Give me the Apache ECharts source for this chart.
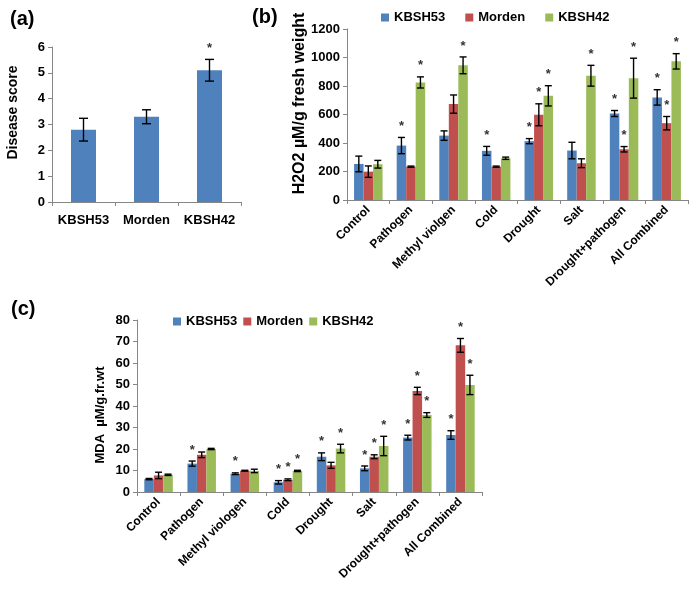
<!DOCTYPE html>
<html><head><meta charset="utf-8">
<script src="https://cdn.jsdelivr.net/npm/echarts@6/dist/echarts.min.js"></script>
<style>html,body{margin:0;padding:0;background:#fff}#c{width:692px;height:590px}</style>
</head><body><div id="c"></div>
<script>
const FONT = '"Liberation Sans", Arial, sans-serif';
const COLORS = ['#4F81BD', '#C0504D', '#9BBB59'];

// Panel (a) data
const cultivars = ['KBSH53', 'Morden', 'KBSH42'];
const diseaseScore = [2.8, 3.3, 5.1];
const diseaseErr = [0.44, 0.27, 0.42];
const diseaseStar = [0, 0, 1];

// Panel (b) data
const treatmentsB = ['Control', 'Pathogen', 'Methyl violgen', 'Cold', 'Drought', 'Salt', 'Drought+pathogen', 'All Combined'];
const h2o2KBSH53 = [253, 382, 452, 345, 413, 347, 607, 720];
const h2o2KBSH53Err = [55, 57, 33, 31, 18, 58, 21, 54];
const h2o2KBSH53Star = [0, 1, 0, 1, 1, 0, 1, 1];
const h2o2Morden = [199, 234, 673, 234, 598, 258, 356, 539];
const h2o2MordenErr = [40, 4, 64, 4, 77, 31, 19, 47];
const h2o2MordenStar = [0, 0, 0, 0, 1, 0, 1, 1];
const h2o2KBSH42 = [251, 825, 945, 293, 731, 872, 855, 973];
const h2o2KBSH42Err = [27, 39, 59, 8, 71, 73, 140, 54];
const h2o2KBSH42Star = [0, 1, 1, 0, 1, 1, 1, 1];

// Panel (c) data
const treatmentsC = ['Control', 'Pathogen', 'Methyl viologen', 'Cold', 'Drought', 'Salt', 'Drought+pathogen', 'All Combined'];
const mdaKBSH53 = [6.0, 13.2, 8.5, 4.5, 16.4, 11.0, 25.3, 26.5];
const mdaKBSH53Err = [0.3, 1.2, 0.4, 0.8, 1.8, 1.1, 1.1, 2.0];
const mdaKBSH53Star = [0, 1, 1, 1, 1, 1, 1, 1];
const mdaMorden = [7.7, 17.3, 9.9, 5.7, 12.4, 16.4, 47.0, 68.2];
const mdaMordenErr = [1.5, 1.3, 0.2, 0.4, 1.4, 0.9, 1.7, 3.2];
const mdaMordenStar = [0, 0, 0, 1, 0, 1, 1, 1];
const mdaKBSH42 = [8.0, 20.0, 9.8, 9.8, 20.2, 21.4, 35.8, 49.8];
const mdaKBSH42Err = [0.3, 0.3, 0.8, 0.3, 2.0, 4.5, 1.1, 4.5];
const mdaKBSH42Star = [0, 0, 0, 1, 1, 1, 1, 1];

const yTicksA = { min: 0, max: 6, interval: 1 };
const yTicksB = { min: 0, max: 1200, interval: 200 };
const yTicksC = { min: 0, max: 80, interval: 10 };

const AXIS_COLOR = '#868686';

function errSeries(gi, vals, errs, stars, k, n, bw, cap) {
  return {
    type: 'custom', xAxisIndex: gi, yAxisIndex: gi, silent: true, z: 5,
    name: 'err' + gi + '_' + k,
    data: vals.map((v, i) => [i, v - errs[i], v + errs[i], stars[i]]),
    encode: { x: 0, y: [1, 2] },
    renderItem: function (params, api) {
      const i = api.value(0);
      const lo = api.coord([i, api.value(1)]);
      const hi = api.coord([i, api.value(2)]);
      const x = lo[0] + (k - (n - 1) / 2) * bw;
      const st = { stroke: '#000', lineWidth: 1.4 };
      const children = [
        { type: 'line', shape: { x1: x, y1: lo[1], x2: x, y2: hi[1] }, style: st },
        { type: 'line', shape: { x1: x - cap / 2, y1: lo[1], x2: x + cap / 2, y2: lo[1] }, style: st },
        { type: 'line', shape: { x1: x - cap / 2, y1: hi[1], x2: x + cap / 2, y2: hi[1] }, style: st }
      ];
      if (api.value(3)) {
        children.push({
          type: 'text',
          style: {
            text: '*', x: x, y: hi[1] - 11,
            textAlign: 'center', textVerticalAlign: 'middle', align: 'center', verticalAlign: 'middle',
            font: 'bold 13px ' + FONT, fill: '#333'
          }
        });
      }
      return { type: 'group', children: children };
    }
  };
}

function barSeries(gi, name, vals, color, bw) {
  return {
    type: 'bar', name: name, xAxisIndex: gi, yAxisIndex: gi, data: vals,
    barWidth: bw, barGap: '0%', itemStyle: { color: color }, silent: true
  };
}

function catAxis(gi, cats, rotate) {
  return {
    type: 'category', gridIndex: gi, data: cats, boundaryGap: true,
    axisLine: { lineStyle: { color: AXIS_COLOR, width: 1 } },
    axisTick: { show: true, length: 4, lineStyle: { color: AXIS_COLOR } },
    axisLabel: { interval: 0, rotate: rotate, margin: rotate ? 8 : 12, color: '#000', fontFamily: FONT, fontWeight: 'bold', fontSize: rotate ? 12 : 13 }
  };
}

function valAxis(gi, ticks, name, nameGap, nameSize, namePad) {
  return {
    type: 'value', gridIndex: gi, min: ticks.min, max: ticks.max, interval: ticks.interval,
    name: name, nameLocation: 'middle', nameGap: nameGap, nameRotate: 90,
    nameTextStyle: { color: '#000', fontFamily: FONT, fontWeight: 'bold', fontSize: nameSize, padding: namePad },
    axisLine: { show: true, lineStyle: { color: AXIS_COLOR, width: 1 } },
    axisTick: { show: true, length: 4, lineStyle: { color: AXIS_COLOR } },
    splitLine: { show: false },
    axisLabel: { margin: 7, color: '#000', fontFamily: FONT, fontWeight: 'bold', fontSize: 13, formatter: function (v) { return String(v); } }
  };
}

const legendStyle = { color: '#000', fontFamily: FONT, fontWeight: 'bold', fontSize: 13 };

const option = {
  animation: false,
  backgroundColor: '#fff',
  title: [
    { text: '(a)', left: 5, top: 4, textStyle: { fontFamily: FONT, fontWeight: 'bold', fontSize: 20, color: '#000' } },
    { text: '(b)', left: 247, top: 2, textStyle: { fontFamily: FONT, fontWeight: 'bold', fontSize: 20, color: '#000' } },
    { text: '(c)', left: 6, top: 294, textStyle: { fontFamily: FONT, fontWeight: 'bold', fontSize: 20, color: '#000' } }
  ],
  legend: [
    { data: ['KBSH53', 'Morden', 'KBSH42'], left: 376, top: 6, icon: 'rect', itemWidth: 8, itemHeight: 8, itemGap: 20, textStyle: legendStyle, selectedMode: false },
    { data: ['KBSH53', 'Morden', 'KBSH42'], left: 168, top: 310, icon: 'rect', itemWidth: 8, itemHeight: 8, itemGap: 6, textStyle: legendStyle, selectedMode: false }
  ],
  grid: [
    { left: 52, top: 47, width: 189, height: 155 },
    { left: 347, top: 29, width: 341, height: 171 },
    { left: 137, top: 320, width: 345, height: 172 }
  ],
  xAxis: [catAxis(0, cultivars, 0), catAxis(1, treatmentsB, 45), catAxis(2, treatmentsC, 45)],
  yAxis: [
    valAxis(0, yTicksA, 'Disease score', 32, 14, [0, 0, 0, 24]),
    valAxis(1, yTicksB, 'H2O2 µM/g fresh weight', 34, 16, [0, 0, 0, 22]),
    valAxis(2, yTicksC, 'MDA  µM/g.fr.wt', 30, 13, [0, 18, 0, 0])
  ],
  series: [
    barSeries(0, 'Disease score', diseaseScore, COLORS[0], 25),
    errSeries(0, diseaseScore, diseaseErr, diseaseStar, 0, 1, 0, 9),

    barSeries(1, 'KBSH53', h2o2KBSH53, COLORS[0], 9.5),
    barSeries(1, 'Morden', h2o2Morden, COLORS[1], 9.5),
    barSeries(1, 'KBSH42', h2o2KBSH42, COLORS[2], 9.5),
    errSeries(1, h2o2KBSH53, h2o2KBSH53Err, h2o2KBSH53Star, 0, 3, 9.5, 7),
    errSeries(1, h2o2Morden, h2o2MordenErr, h2o2MordenStar, 1, 3, 9.5, 7),
    errSeries(1, h2o2KBSH42, h2o2KBSH42Err, h2o2KBSH42Star, 2, 3, 9.5, 7),

    barSeries(2, 'KBSH53', mdaKBSH53, COLORS[0], 9.5),
    barSeries(2, 'Morden', mdaMorden, COLORS[1], 9.5),
    barSeries(2, 'KBSH42', mdaKBSH42, COLORS[2], 9.5),
    errSeries(2, mdaKBSH53, mdaKBSH53Err, mdaKBSH53Star, 0, 3, 9.5, 7),
    errSeries(2, mdaMorden, mdaMordenErr, mdaMordenStar, 1, 3, 9.5, 7),
    errSeries(2, mdaKBSH42, mdaKBSH42Err, mdaKBSH42Star, 2, 3, 9.5, 7)
  ]
};

const chart = echarts.init(document.getElementById('c'), null, { renderer: 'canvas' });
chart.setOption(option);
</script>
</body></html>
